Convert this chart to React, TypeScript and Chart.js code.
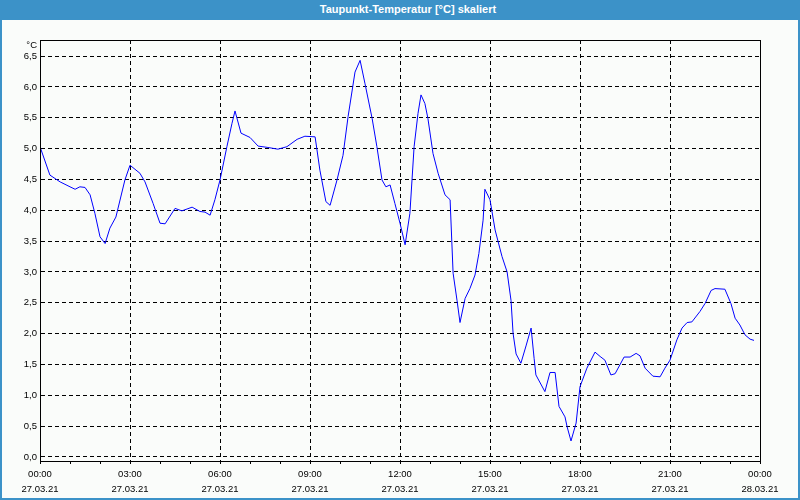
import { useEffect, useRef } from "react";
import { Chart, registerables } from "chart.js";

Chart.register(...registerables);

const TITLE = "Taupunkt-Temperatur [°C] skaliert";
const UNIT = "°C";

// time of day in hours (27.03.21)
const hours = [
  0.0, 0.33, 0.67, 1.0, 1.17, 1.33, 1.5, 1.67, 1.83, 2.0, 2.17, 2.33, 2.53, 2.83, 3.0,
  3.33, 3.5, 3.77, 4.0, 4.17, 4.5, 4.73, 5.07, 5.33, 5.5, 5.67, 5.83, 6.0, 6.23, 6.4,
  6.5, 6.7, 7.0, 7.27, 7.57, 7.93, 8.23, 8.57, 8.83, 9.17, 9.33, 9.53, 9.67, 9.9, 10.1,
  10.27, 10.5, 10.67, 10.83, 11.07, 11.23, 11.4, 11.53, 11.67, 11.83, 12.0, 12.17, 12.33,
  12.47, 12.6, 12.7, 12.83, 12.93, 13.1, 13.27, 13.5, 13.67, 13.77, 13.9, 14.0, 14.17,
  14.33, 14.5, 14.63, 14.77, 14.83, 15.0, 15.17, 15.4, 15.57, 15.7, 15.77, 15.87, 16.03,
  16.2, 16.37, 16.47, 16.53, 16.83, 17.0, 17.17, 17.3, 17.5, 17.57, 17.7, 17.87, 18.0,
  18.23, 18.5, 18.67, 18.83, 19.03, 19.17, 19.47, 19.67, 19.87, 20.0, 20.17, 20.43, 20.67,
  20.83, 21.0, 21.23, 21.4, 21.57, 21.73, 22.0, 22.17, 22.37, 22.5, 22.83, 23.03, 23.17,
  23.33, 23.5, 23.67, 23.8,
];

// dew point temperature in °C
const dewPoint = [
  5.03, 4.57, 4.46, 4.38, 4.34, 4.38, 4.37, 4.25, 3.95, 3.57, 3.46, 3.71, 3.89, 4.49, 4.73,
  4.6, 4.46, 4.11, 3.79, 3.78, 4.03, 3.99, 4.05, 3.98, 3.97, 3.92, 4.17, 4.49, 5.03, 5.41,
  5.61, 5.25, 5.18, 5.04, 5.02, 4.99, 5.03, 5.15, 5.2, 5.19, 4.65, 4.14, 4.08, 4.49, 4.89,
  5.52, 6.24, 6.43, 6.06, 5.49, 5.03, 4.49, 4.38, 4.41, 4.11, 3.79, 3.44, 3.95,
  5.03, 5.57, 5.87, 5.73, 5.49, 4.92, 4.6, 4.25, 4.17, 2.98, 2.54, 2.18, 2.57,
  2.73, 2.95, 3.3, 3.84, 4.34, 4.17, 3.68, 3.25, 3.0, 2.54, 2.0, 1.67, 1.52,
  1.8, 2.09, 1.6, 1.33, 1.06, 1.37, 1.37, 0.82, 0.65, 0.49, 0.26, 0.55, 1.14,
  1.44, 1.7, 1.63, 1.57, 1.33, 1.35, 1.62, 1.62, 1.68, 1.64, 1.44, 1.31, 1.3,
  1.44, 1.57, 1.9, 2.09, 2.18, 2.19, 2.36, 2.49, 2.7, 2.73, 2.72, 2.49, 2.25,
  2.14, 1.98, 1.91, 1.89,
];

const yTickValues = [0, 0.5, 1, 1.5, 2, 2.5, 3, 3.5, 4, 4.5, 5, 5.5, 6, 6.5];
const xTimeLabels = ["00:00", "03:00", "06:00", "09:00", "12:00", "15:00", "18:00", "21:00", "00:00"];
const xDateLabels = ["27.03.21", "27.03.21", "27.03.21", "27.03.21", "27.03.21", "27.03.21", "27.03.21", "27.03.21", "28.03.21"];

const FONT = "'Liberation Sans', Arial, sans-serif";
const BLUE = "#3c92c8";
const TICK_SIZE = 9.5;

export default function App() {
  const ref = useRef<HTMLCanvasElement | null>(null);

  useEffect(() => {
    const canvas = ref.current;
    if (!canvas) return;

    const framePlugin = {
      id: "frame",
      afterDraw(chart: any) {
        const { ctx, chartArea } = chart;
        ctx.save();
        ctx.strokeStyle = "#000";
        ctx.lineWidth = 1;
        ctx.strokeRect(
          Math.round(chartArea.left) + 0.5,
          Math.round(chartArea.top) + 0.5,
          Math.round(chartArea.right - chartArea.left),
          Math.round(chartArea.bottom - chartArea.top)
        );
        ctx.fillStyle = "#000";
        ctx.font = `${TICK_SIZE}px ${FONT}`;
        ctx.textAlign = "right";
        ctx.textBaseline = "middle";
        ctx.fillText(UNIT, chartArea.left - 3, chartArea.top + 5);
        ctx.restore();
      },
    };

    const chart = new Chart(canvas, {
      type: "line",
      data: {
        datasets: [
          {
            label: "Taupunkt",
            data: hours.map((h, i) => ({ x: h, y: dewPoint[i] })),
            borderColor: "#0000ff",
            borderWidth: 1,
            pointRadius: 0,
            tension: 0,
            fill: false,
          },
        ],
      },
      options: {
        animation: false,
        responsive: false,
        parsing: false,
        layout: { padding: { top: 40, right: 40, left: 0, bottom: 0 } },
        plugins: {
          legend: { display: false },
          tooltip: { enabled: false },
          title: { display: false },
        },
        scales: {
          x: {
            type: "linear",
            min: 0,
            max: 24,
            afterFit: (s: any) => {
              s.height = 39;
            },
            afterBuildTicks: (s: any) => {
              const t = [];
              for (let i = 0; i <= 24; i++) t.push({ value: i });
              s.ticks = t;
            },
            ticks: {
              autoSkip: false,
              maxRotation: 0,
              minRotation: 0,
              padding: 3,
              color: "#000",
              font: { family: FONT, size: TICK_SIZE, lineHeight: 15 / TICK_SIZE },
              callback: (v: any) => {
                const n = Number(v);
                if (n % 3 !== 0) return "";
                const k = n / 3;
                return [xTimeLabels[k], xDateLabels[k]];
              },
            },
            grid: {
              color: (c: any) => (c.tick && c.tick.value % 3 === 0 ? "#000" : "rgba(0,0,0,0)"),
              tickColor: "#000",
              tickLength: 3,
              lineWidth: 1,
              drawTicks: true,
            },
            border: { display: true, color: "#000", width: 1, dash: [4, 3] },
          },
          y: {
            type: "linear",
            min: -0.065,
            max: 6.76,
            afterFit: (s: any) => {
              s.width = 40;
            },
            afterBuildTicks: (s: any) => {
              s.ticks = yTickValues.map((v) => ({ value: v }));
            },
            ticks: {
              padding: 3,
              color: "#000",
              font: { family: FONT, size: TICK_SIZE },
              callback: (v: any) => Number(v).toFixed(1).replace(".", ","),
            },
            grid: {
              color: "#000",
              lineWidth: 1,
              drawTicks: false,
            },
            border: { display: true, color: "#000", width: 1, dash: [4, 3] },
          },
        },
      },
      plugins: [framePlugin],
    });

    return () => chart.destroy();
  }, []);

  return (
    <div
      style={{
        position: "fixed",
        left: 0,
        top: 0,
        width: 800,
        height: 500,
        background: "#fafcfa",
        boxSizing: "border-box",
        borderLeft: `2px solid ${BLUE}`,
        borderRight: `2px solid ${BLUE}`,
        borderBottom: `2px solid ${BLUE}`,
        overflow: "hidden",
      }}
    >
      <div
        style={{
          position: "absolute",
          left: -2,
          top: 0,
          width: 800,
          height: 20,
          background: BLUE,
          color: "#fff",
          fontFamily: FONT,
          fontWeight: "bold",
          fontSize: 11,
          lineHeight: "19px",
          textAlign: "center",
          paddingLeft: 16,
          boxSizing: "border-box",
        }}
      >
        {TITLE}
      </div>
      <canvas
        ref={ref}
        width={800}
        height={500}
        style={{ position: "absolute", left: -2, top: 0, width: 800, height: 500 }}
      />
    </div>
  );
}
